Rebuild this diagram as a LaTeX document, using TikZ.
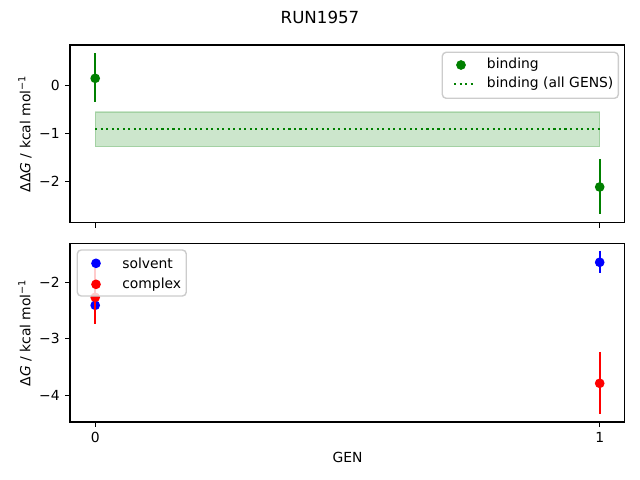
\documentclass[tikz,border=0pt]{standalone}
\usepackage{fontspec}
\setmainfont{DejaVu Sans}

\definecolor{mplgreen}{rgb}{0,0.5,0}
\definecolor{mplblue}{rgb}{0,0,1}
\definecolor{mplred}{rgb}{1,0,0}
\definecolor{legendedge}{gray}{0.8}

\tikzset{
  spine/.style={line width=0.8pt},
  tickmark/.style={line width=0.8pt},
  ticklabel/.style={inner sep=0pt, font=\fontsize{10}{12}\selectfont},
  errbar/.style={line width=1.5pt},
  dot/.style={circle, fill, inner sep=0pt, minimum size=7pt},
  legendbox/.style={draw=legendedge, line width=1pt, fill=white, fill opacity=0.8, rounded corners=2.8pt},
  legendtext/.style={anchor=west, inner sep=0pt, font=\fontsize{10}{12}\selectfont}
}

\begin{document}
\begin{tikzpicture}[x=0.72pt, y=-0.72pt]

    % Fix the page to the figure size (640 x 480 px)
    \useasboundingbox (0,0) rectangle (640,480);

    % Title of the figure
    \node[font=\fontsize{12}{14}\selectfont] (title) at (320,17) {RUN1957};

    % Upper panel: binding free energy per GEN
    \begin{scope}[shift={(95.2,85.08)}, x=363.24pt, y=34.77pt]

        % Band and dotted line of the estimate over all GENS
        \fill[mplgreen, fill opacity=0.2] (0,-0.557) rectangle (1,-1.276);
        \draw[mplgreen, opacity=0.2, line width=1pt] (0,-0.557) rectangle (1,-1.276);
        \draw[mplgreen, line width=1.5pt, dash pattern=on 1.5pt off 2.475pt] (0,-0.90) -- (1,-0.90);

        % Points with error bars
        \draw[errbar, mplgreen] (0,0.658) -- (0,-0.357);
        \node[dot, mplgreen] (b0) at (0,0.14) {};
        \draw[errbar, mplgreen] (1,-1.53) -- (1,-2.676);
        \node[dot, mplgreen] (b1) at (1,-2.11) {};

        % Frame of the axes
        \draw[spine] (-0.05,-2.85) rectangle (1.05,0.83);

        % Ticks
        \foreach \v/\t in {0/0, -1/−1, -2/−2}
            \draw[tickmark] (-0.05,\v) -- ++(-3.5pt,0) node[ticklabel, left=3.5pt] {\t};
        \foreach \x in {0,1}
            \draw[tickmark] (\x,-2.85) -- ++(0,-3.5pt);
    \end{scope}

    % Lower panel: solvent and complex free energies per GEN
    \begin{scope}[shift={(95.2,169.2)}, x=363.24pt, y=40.72pt]

        % Solvent points
        \draw[errbar, mplblue] (0,-2.33) -- (0,-2.48);
        \node[dot, mplblue] (s0) at (0,-2.406) {};
        \draw[errbar, mplblue] (1,-1.441) -- (1,-1.83);
        \node[dot, mplblue] (s1) at (1,-1.646) {};

        % Complex points
        \draw[errbar, mplred] (0,-1.75) -- (0,-2.73);
        \node[dot, mplred] (c0) at (0,-2.265) {};
        \draw[errbar, mplred] (1,-3.232) -- (1,-4.329);
        \node[dot, mplred] (c1) at (1,-3.786) {};

        % Frame of the axes
        \draw[spine] (-0.05,-4.47) rectangle (1.05,-1.31);

        % Ticks
        \foreach \v/\t in {-2/−2, -3/−3, -4/−4}
            \draw[tickmark] (-0.05,\v) -- ++(-3.5pt,0) node[ticklabel, left=3.5pt] {\t};
        \foreach \x in {0,1}
            \draw[tickmark] (\x,-4.47) -- ++(0,-3.5pt) node[ticklabel, below=3.5pt] {\x};
    \end{scope}

    % Axis labels
    \node[rotate=90, font=\fontsize{10}{12}\selectfont] (ylabtop) at (25,133.9) {ΔΔ\textit{G} / kcal mol\textsuperscript{−1}};
    \node[rotate=90, font=\fontsize{10}{12}\selectfont] (ylabbot) at (25,332.7) {Δ\textit{G} / kcal mol\textsuperscript{−1}};
    \node[font=\fontsize{10}{12}\selectfont] (xlab) at (347.5,457) {GEN};

    % Legend of the upper panel
    \draw[legendbox] (442.3,52.3) rectangle (618.3,98.3);
    \node[dot, mplgreen] (legbind) at (461,65) {};
    \node[legendtext] (txtbind) at (486.7,65) {binding};
    \coordinate (dotl) at (454,83.7);
    \coordinate (dotr) at (474,83.7);
    \draw[mplgreen, line width=1.5pt, dash pattern=on 1.5pt off 2.475pt] (dotl) -- (dotr);
    \node[legendtext] (txtall) at (486.7,83.7) {binding (all GENS)};

    % Legend of the lower panel
    \draw[legendbox] (77.3,250) rectangle (186.3,296);
    \node[dot, mplblue] (legsolv) at (96,263.3) {};
    \node[legendtext] (txtsolv) at (122,263.3) {solvent};
    \node[dot, mplred] (legcomp) at (96,284.3) {};
    \node[legendtext] (txtcomp) at (122,284.3) {complex};

\end{tikzpicture}
\end{document}
